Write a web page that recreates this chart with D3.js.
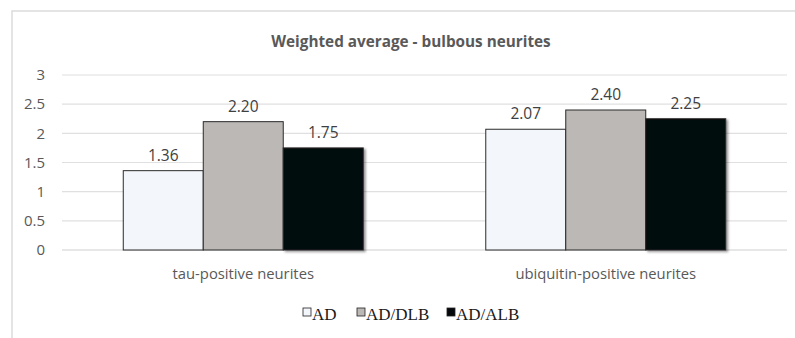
<!DOCTYPE html>
<html lang="en">
<head>
<meta charset="UTF-8">
<title>Weighted average - bulbous neurites</title>
<style>
  body { margin: 0; background: #fff; }
  svg { display: block; }
</style>
<script src="https://d3js.org/d3.v7.min.js"></script>
</head>
<body>
<script>
var categories = ["tau-positive neurites", "ubiquitin-positive neurites"];
var seriesNames = ["AD", "AD/DLB", "AD/ALB"];
var adValues = [1.36, 2.07];
var dlbValues = [2.20, 2.40];
var albValues = [1.75, 2.25];
var yTicks = [0, 0.5, 1, 1.5, 2, 2.5, 3];

var seriesValues = [adValues, dlbValues, albValues];
var colors = ["#f3f6fa", "#bcb8b6", "#05070a"];

var width = 795, height = 338;
var plot = {left: 62, right: 787, top: 75, bottom: 250};

var svg = d3.select("body").append("svg")
    .attr("width", width).attr("height", height);

var defs = svg.append("defs");
var f = defs.append("filter").attr("id", "shadow")
    .attr("x", "-10%").attr("y", "-10%").attr("width", "130%").attr("height", "130%");
f.append("feDropShadow").attr("dx", 2).attr("dy", 1.5).attr("stdDeviation", 1)
    .attr("flood-color", "#000").attr("flood-opacity", 0.4);

// chart frame
svg.append("path")
    .attr("d", "M12,338 V11 H795")
    .attr("fill", "none").attr("stroke", "#dcdcdc").attr("stroke-width", 1.5);

svg.append("text")
    .attr("x", 411).attr("y", 47)
    .attr("text-anchor", "middle")
    .style("font-family", "'Open Sans', sans-serif")
    .style("font-size", "15.3px").style("font-weight", "bold")
    .style("fill", "#595959")
    .text("Weighted average - bulbous neurites");

var x0 = d3.scaleBand().domain(categories)
    .range([plot.left, plot.right]).paddingInner(0.338).paddingOuter(0.169);
var x1 = d3.scaleBand().domain(seriesNames).range([0, x0.bandwidth()]);
var y = d3.scaleLinear().domain([0, 3]).range([plot.bottom, plot.top]);

// grid
svg.append("g").selectAll("line").data(yTicks).enter().append("line")
    .attr("x1", plot.left).attr("x2", plot.right)
    .attr("y1", function(d){ return y(d); }).attr("y2", function(d){ return y(d); })
    .attr("stroke", function(d){ return d === 0 ? "#cfcfcf" : "#e0e0e0"; })
    .attr("stroke-width", 1.2);

var yAxis = d3.axisLeft(y).tickValues(yTicks).tickSize(0).tickPadding(0)
    .tickFormat(function(d){ return String(d); });
var yg = svg.append("g").attr("transform", "translate(45,0)").call(yAxis);
yg.select(".domain").remove();
yg.selectAll("text")
    .style("font-family", "'Open Sans', sans-serif")
    .style("font-size", "15px").style("fill", "#595959");

var groups = svg.selectAll("g.grp").data(categories).enter().append("g")
    .attr("class", "grp")
    .attr("transform", function(d){ return "translate(" + x0(d) + ",0)"; });

groups.each(function(cat, ci) {
  var g = d3.select(this);
  seriesNames.forEach(function(s, si) {
    var v = seriesValues[si][ci];
    g.append("rect")
      .attr("x", x1(s)).attr("y", y(v))
      .attr("width", x1.bandwidth()).attr("height", y(0) - y(v))
      .attr("fill", colors[si])
      .attr("stroke", "#2a2a2a").attr("stroke-width", 1)
      .attr("filter", si === 2 ? "url(#shadow)" : null);
    g.append("text")
      .attr("x", x1(s) + x1.bandwidth() / 2).attr("y", y(v) - 10)
      .attr("text-anchor", "middle")
      .style("font-family", "'Open Sans', sans-serif")
      .style("font-size", "15.5px").style("fill", "#404040")
      .text(v.toFixed(2));
  });
});

var xAxis = d3.axisBottom(x0).tickSize(0).tickPadding(0);
var xg = svg.append("g").attr("transform", "translate(0,268)").call(xAxis);
xg.select(".domain").remove();
xg.selectAll("text")
    .style("font-family", "'Open Sans', sans-serif")
    .style("font-size", "14.8px").style("fill", "#595959");

// legend
var legendX = [303, 357, 447];
var leg = svg.selectAll("g.leg").data(seriesNames).enter().append("g")
    .attr("class", "leg")
    .attr("transform", function(d, i){ return "translate(" + legendX[i] + ",307)"; });
leg.append("rect").attr("x", 0).attr("y", 1).attr("width", 8).attr("height", 8)
    .attr("fill", function(d, i){ return colors[i]; })
    .attr("stroke", "#222").attr("stroke-width", 0.8);
leg.append("text").attr("x", 9).attr("y", 13)
    .style("font-family", "'Liberation Serif', 'Times New Roman', serif")
    .style("font-size", "17px").style("fill", "#1a1a1a")
    .text(function(d){ return d; });
</script>
</body>
</html>
